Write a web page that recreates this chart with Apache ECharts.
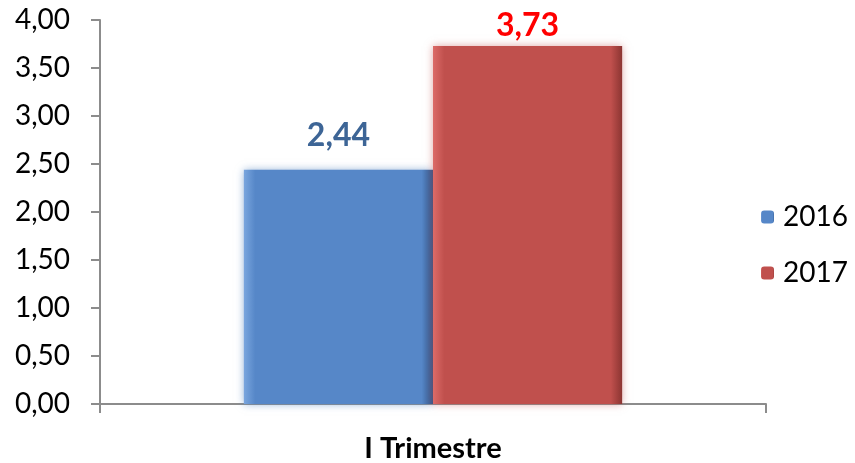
<!DOCTYPE html>
<html><head><meta charset="utf-8">
<script src="https://cdn.jsdelivr.net/npm/echarts@6/dist/echarts.min.js"></script>
<style>html,body{margin:0;padding:0;background:#fff}#c{width:855px;height:463px}</style>
</head><body><div id="c"></div>
<script>
const categories = ['I Trimestre'];
const seriesNames = ['2016', '2017'];
const values2016 = [2.44];
const values2017 = [3.73];
const yTicks = [0, 0.5, 1, 1.5, 2, 2.5, 3, 3.5, 4];

const fmt = v => v.toFixed(2).replace('.', ',');
const font = 'Lato, "Open Sans", sans-serif';

function grad(light, mid, dark) {
  return new echarts.graphic.LinearGradient(0, 0, 1, 0, [
    {offset: 0, color: light}, {offset: 0.06, color: mid},
    {offset: 0.94, color: mid}, {offset: 1, color: dark}
  ]);
}

const chart = echarts.init(document.getElementById('c'));
chart.setOption({
  animation: false,
  grid: {left: 100, right: 89, top: 20, bottom: 59},
  legend: {
    orient: 'vertical', left: 756, top: 198, itemWidth: 13, itemHeight: 13, itemGap: 28,
    textStyle: {fontFamily: font, fontSize: 28, color: '#000', padding: [0, 0, 0, 4]},
    data: seriesNames
  },
  xAxis: {
    type: 'category', data: categories,
    axisLine: {lineStyle: {color: '#8c8c8c', width: 2}},
    axisTick: {show: true, length: 9, lineStyle: {color: '#8c8c8c', width: 2}},
    axisLabel: {fontFamily: font, fontSize: 29, fontWeight: 'bold', color: '#000', margin: 30}
  },
  yAxis: {
    type: 'value', min: 0, max: yTicks[yTicks.length - 1], interval: yTicks[1] - yTicks[0],
    splitLine: {show: false},
    axisLine: {show: true, lineStyle: {color: '#8c8c8c', width: 2}},
    axisTick: {show: true, length: 9, lineStyle: {color: '#8c8c8c', width: 2}},
    axisLabel: {fontFamily: font, fontSize: 28, color: '#000', margin: 30, formatter: v => fmt(v)}
  },
  series: [
    {
      name: seriesNames[0], type: 'bar', data: values2016, barWidth: '28.4%', barGap: '0%',
      itemStyle: {color: grad('#7aa6de', '#5687c8', '#2f5488'), shadowBlur: 8, shadowColor: 'rgba(79,129,189,0.6)'},
      label: {show: true, position: 'top', distance: 18, formatter: p => fmt(p.value),
        fontFamily: font, fontSize: 32, fontWeight: 'bold', color: '#3d6596'}
    },
    {
      name: seriesNames[1], type: 'bar', data: values2017, barWidth: '28.4%', barGap: '0%',
      itemStyle: {color: grad('#dc6b68', '#c0504d', '#8c3532'), shadowBlur: 8, shadowColor: 'rgba(192,80,77,0.5)'},
      label: {show: true, position: 'top', distance: 4, formatter: p => fmt(p.value),
        fontFamily: font, fontSize: 32, fontWeight: 'bold', color: '#ff0000'}
    }
  ]
});
</script></body></html>
